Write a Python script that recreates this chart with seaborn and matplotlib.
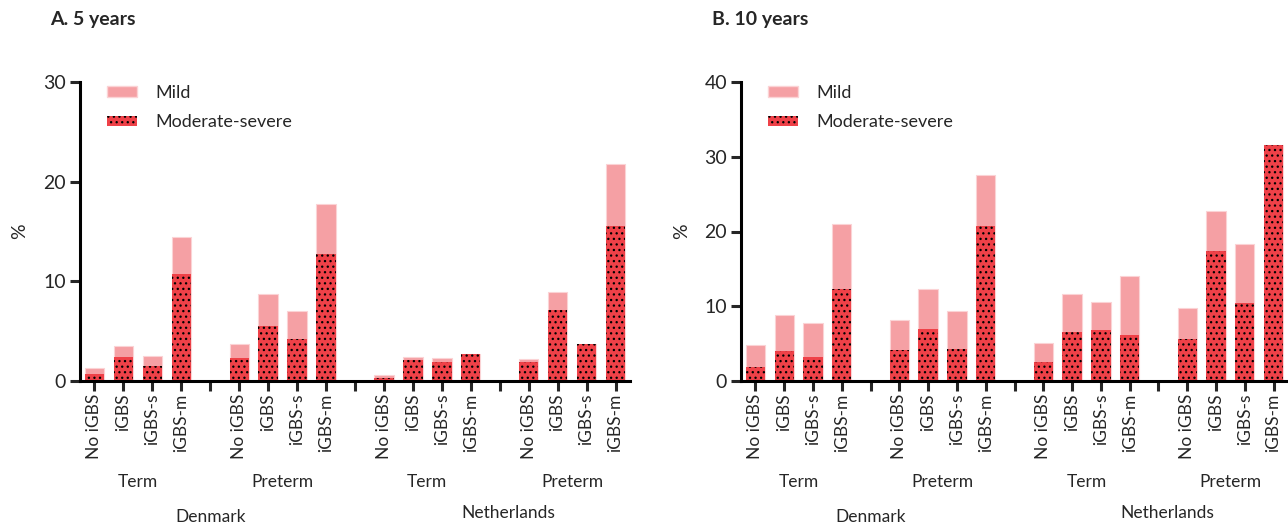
import numpy as np
import pandas as pd
import matplotlib.pyplot as plt
import seaborn as sns
from matplotlib.patches import Patch
from matplotlib.transforms import blended_transform_factory

sns.set_theme(style="white")
plt.rcParams["font.family"] = ["Lato", "DejaVu Sans"]
plt.rcParams["hatch.linewidth"] = 0.9

MILD_COLOR = "#F5A0A4"
MOD_COLOR = "#EF4148"

# order: Denmark Term, Denmark Preterm, Netherlands Term, Netherlands Preterm
exposure = ["No iGBS", "iGBS", "iGBS-s", "iGBS-m"]
birth_groups = ["Term", "Preterm", "Term", "Preterm"]
countries = ["Denmark", "Netherlands"]

# 5 years: total (mild + moderate-severe) and moderate-severe, %
total_5y = [1.3, 3.5, 2.5, 14.4,
            3.7, 8.7, 7.0, 17.8,
            0.6, 2.4, 2.3, 2.7,
            2.2, 8.9, 3.7, 21.8]
modsev_5y = [0.7, 2.45, 1.55, 10.7,
             2.3, 5.5, 4.2, 12.7,
             0.35, 2.1, 1.9, 2.7,
             1.95, 7.15, 3.7, 15.6]

# 10 years
total_10y = [4.75, 8.8, 7.7, 21.0,
             8.1, 12.25, 9.4, 27.6,
             5.1, 11.7, 10.6, 14.0,
             9.8, 22.7, 18.35, 31.6]
modsev_10y = [1.9, 4.0, 3.2, 12.25,
              4.1, 6.9, 4.3, 20.7,
              2.55, 6.6, 6.8, 6.2,
              5.65, 17.45, 10.4, 31.6]


def build_frame(total, modsev):
    rows = []
    for g in range(4):
        for i, e in enumerate(exposure):
            k = g * 4 + i
            rows.append({"pos": g * 5 + i, "exposure": e,
                         "group": birth_groups[g],
                         "country": countries[g // 2],
                         "total": total[k], "modsev": modsev[k]})
    return pd.DataFrame(rows)


def draw_panel(ax, df, ymax):
    sns.barplot(data=df, x="pos", y="total", native_scale=True, width=0.67,
                color=MILD_COLOR, saturation=1, errorbar=None,
                edgecolor="#FBD3D5", linewidth=0.8, ax=ax)
    n_before = len(ax.patches)
    sns.barplot(data=df, x="pos", y="modsev", native_scale=True, width=0.67,
                color=MOD_COLOR, saturation=1, errorbar=None,
                edgecolor="black", linewidth=0, ax=ax)
    for p in ax.patches[n_before:]:
        p.set_hatch("...")

    ax.set_xlim(-0.5, 18.5)
    ax.set_ylim(0, ymax)
    ax.set_yticks(np.arange(0, ymax + 1, 10))
    ax.set_xticks(np.arange(19))
    labels = [""] * 19
    for _, r in df.iterrows():
        labels[int(r["pos"])] = r["exposure"]
    ax.set_xticklabels(labels, rotation=90, fontsize=12.5)
    ax.tick_params(axis="y", labelsize=14, length=7, width=2.2, direction="out",
                   left=True, pad=3)
    ax.tick_params(axis="x", length=7, width=2.2, direction="out",
                   bottom=True, pad=2)
    sns.despine(ax=ax)
    for s in ["left", "bottom"]:
        ax.spines[s].set_linewidth(2.2)
        ax.spines[s].set_color("black")
    ax.set_xlabel("")
    ax.set_ylabel("%", fontsize=14)

    trans = blended_transform_factory(ax.transData, ax.transAxes)
    for g in range(4):
        ax.text(g * 5 + 1.5, -0.338, birth_groups[g], transform=trans,
                ha="center", va="center", fontsize=12.5)
    ax.text(4, -0.455, countries[0], transform=trans,
            ha="center", va="center", fontsize=12.5)
    ax.text(14.3, -0.44, countries[1], transform=trans,
            ha="center", va="center", fontsize=12.5)

    handles = [Patch(facecolor=MILD_COLOR, edgecolor="#FBD3D5", label="Mild"),
               Patch(facecolor=MOD_COLOR, edgecolor="black", linewidth=0,
                     hatch="...", label="Moderate-severe")]
    ax.legend(handles=handles, loc="upper left", bbox_to_anchor=(0.02, 1.045),
              frameon=False, fontsize=13, handlelength=1.65, handleheight=0.55,
              handletextpad=1.0, labelspacing=0.75)


fig = plt.figure(figsize=(12.88, 5.25), dpi=100)
ax_a = fig.add_axes([80 / 1288, 1 - 381 / 525, 550 / 1288, 299 / 525])
ax_b = fig.add_axes([741 / 1288, 1 - 381 / 525, 547 / 1288, 299 / 525])

draw_panel(ax_a, build_frame(total_5y, modsev_5y), 30)
draw_panel(ax_b, build_frame(total_10y, modsev_10y), 40)
ax_a.yaxis.set_label_coords(-0.095, 0.5)
ax_b.yaxis.set_label_coords(-0.093, 0.5)

fig.text(50 / 1288, 1 - 20 / 525, "A. 5 years", fontsize=14, fontweight="bold",
         ha="left", va="center")
fig.text(712 / 1288, 1 - 20 / 525, "B. 10 years", fontsize=14, fontweight="bold",
         ha="left", va="center")

fig.savefig("out.png", dpi=100)
